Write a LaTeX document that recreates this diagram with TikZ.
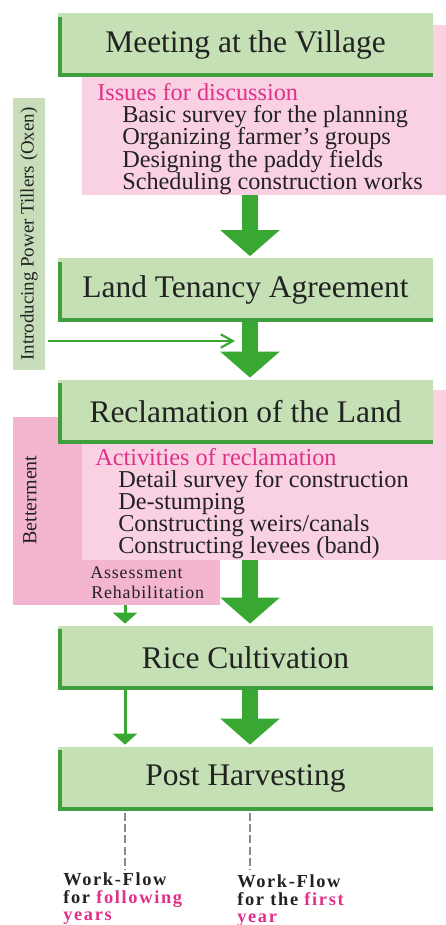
\documentclass[tikz,border=0pt]{standalone}
\usepackage{fontspec}
\setmainfont{Liberation Serif}
\newfontfamily\flowfont[LetterSpace=9]{Liberation Serif}
\newfontfamily\notefont[LetterSpace=5]{Liberation Serif}
\usetikzlibrary{arrows.meta}

\definecolor{boxgreen}{HTML}{C5E0B4}
\definecolor{edgegreen}{HTML}{3F9F3F}
\definecolor{flowgreen}{HTML}{38A832}
\definecolor{notepink}{HTML}{F9D1E2}
\definecolor{deeppink}{HTML}{F3B5CF}
\definecolor{keymagenta}{HTML}{E0308A}
\definecolor{sidegreen}{HTML}{C9DDBA}
\definecolor{ink}{HTML}{222222}
\definecolor{guidegray}{HTML}{8A8A8A}

\begin{document}
\begin{tikzpicture}[x=0.75pt,y=-0.75pt,
  gbox/.style={rectangle, fill=boxgreen, minimum width=281.25pt, minimum height=48pt,
    inner sep=0pt, text=ink, font=\fontsize{23.6pt}{28pt}\selectfont},
  notebox/.style={rectangle, fill=notepink, minimum width=273pt, minimum height=127.5pt, inner sep=0pt},
  deepbox/.style={rectangle, fill=deeppink, minimum width=155.25pt, minimum height=141pt, inner sep=0pt},
  sidebox/.style={rectangle, fill=sidegreen, minimum width=204pt, minimum height=24pt, inner sep=0pt,
    text=ink, font=\fontsize{14.2pt}{17pt}\selectfont},
  listhead/.style={anchor=base west, inner sep=0pt, text=keymagenta, font=\fontsize{18.2pt}{22pt}\selectfont},
  listitem/.style={anchor=base west, inner sep=0pt, text=ink, font=\fontsize{18.2pt}{22pt}\selectfont},
  smallnote/.style={anchor=base west, inner sep=0pt, text=ink, font=\notefont\fontsize{13.4pt}{16pt}\selectfont},
  flownote/.style={anchor=base west, inner sep=0pt, text=ink, font=\flowfont\bfseries\fontsize{13.8pt}{16pt}\selectfont},
  stripe/.style={draw=edgegreen, line width=3pt},
  bigflow/.style={draw=flowgreen, line width=12pt, -{Triangle[width=43.5pt,length=19.5pt]}, shorten >=1.2pt},
  smallflow/.style={draw=flowgreen, line width=2.25pt, -{Triangle[width=18pt,length=8.25pt]}, shorten >=1.2pt},
  feedline/.style={draw=flowgreen, line width=1.6pt, -{Straight Barb[length=9pt,width=10pt,line width=1.6pt]}},
  guide/.style={draw=guidegray, line width=1.5pt, dash pattern=on 6pt off 2.5pt}
]
\fill[white] (0,0) rectangle (446,925);
\useasboundingbox (0,0) rectangle (446,925);

\coordinate (spine) at (250,0);
\coordinate (branch) at (125,0);

% step 1: village meeting with its discussion list
\node[notebox] (issues) at (264,110) {};
\node[gbox] (meeting) at (245.5,45) {Meeting at the Village};
\node[listhead] (issuesT) at (97,100) {Issues for discussion};
\node[listitem] (issue1) at (122,122) {Basic survey for the planning};
\node[listitem] (issue2) at (122,144.5) {Organizing farmer's groups};
\node[listitem] (issue3) at (122,167) {Designing the paddy fields};
\node[listitem] (issue4) at (122,189) {Scheduling construction works};

% step 2: tenancy
\node[gbox] (tenancy) at (245.5,290) {Land Tenancy Agreement};

% side input: power tillers
\node[sidebox, rotate=90] (tillers) at (29,234) {Introducing Power Tillers (Oxen)};
\coordinate (feedEnd) at (235,341);

% step 3: reclamation with betterment behind it
\node[deepbox] (betterment) at (116.5,511) {};
\node[rotate=90, inner sep=0pt, text=ink, font=\fontsize{15pt}{18pt}\selectfont] (bettermentT) at (30,500) {Betterment};
\node[notebox] (activities) at (264,475) {};
\node[gbox] (reclaim) at (245.5,411.5) {Reclamation of the Land};
\node[listhead] (activitiesT) at (95,465) {Activities of reclamation};
\node[listitem] (act1) at (118,487) {Detail survey for construction};
\node[listitem] (act2) at (118,509) {De-stumping};
\node[listitem] (act3) at (118,531) {Constructing weirs/canals};
\node[listitem] (act4) at (118,553) {Constructing levees (band)};
\node[smallnote] (assess) at (90,578) {Assessment};
\node[smallnote] (rehab) at (91,598) {Rehabilitation};

% steps 4 and 5
\node[gbox] (rice) at (245.5,657.5) {Rice Cultivation};
\node[gbox] (post) at (245.5,778.5) {Post Harvesting};

% shaded left and bottom edges of the step boxes
\foreach \n in {meeting,tenancy,reclaim,rice,post}
  \draw[stripe] ([xshift=1.5pt,yshift=-3pt]\n.north west) |- ([yshift=1.5pt]\n.south east);

% main work-flow arrows
\draw[bigflow] (issues.south -| spine) -- (tenancy.north -| spine);
\draw[bigflow] (tenancy.south -| spine) -- (reclaim.north -| spine);
\draw[bigflow] (activities.south -| spine) -- (rice.north -| spine);
\draw[bigflow] (rice.south -| spine) -- (post.north -| spine);

% follow-up years branch
\draw[smallflow] (betterment.south -| branch) -- (rice.north -| branch);
\draw[smallflow] (rice.south -| branch) -- (post.north -| branch);

% power tillers feed
\draw[feedline] ([xshift=2.25pt]tillers.south |- feedEnd) -- (feedEnd);

% legend guides
\coordinate (legendLeft) at (125,870);
\coordinate (legendRight) at (250,870);
\draw[guide] ([yshift=-1.5pt]post.south -| branch) -- (legendLeft);
\draw[guide] ([yshift=-1.5pt]post.south -| spine) -- (legendRight);

\node[flownote] (wfL1) at (63,885) {Work-Flow};
\node[flownote] (wfL2) at (63,903) {for \textcolor{keymagenta}{following}};
\node[flownote] (wfL3) at (63,920) {\textcolor{keymagenta}{years}};
\node[flownote] (wfR1) at (237,887) {Work-Flow};
\node[flownote] (wfR2) at (237,905) {for the \textcolor{keymagenta}{first}};
\node[flownote] (wfR3) at (237,922) {\textcolor{keymagenta}{year}};
\end{tikzpicture}
\end{document}
